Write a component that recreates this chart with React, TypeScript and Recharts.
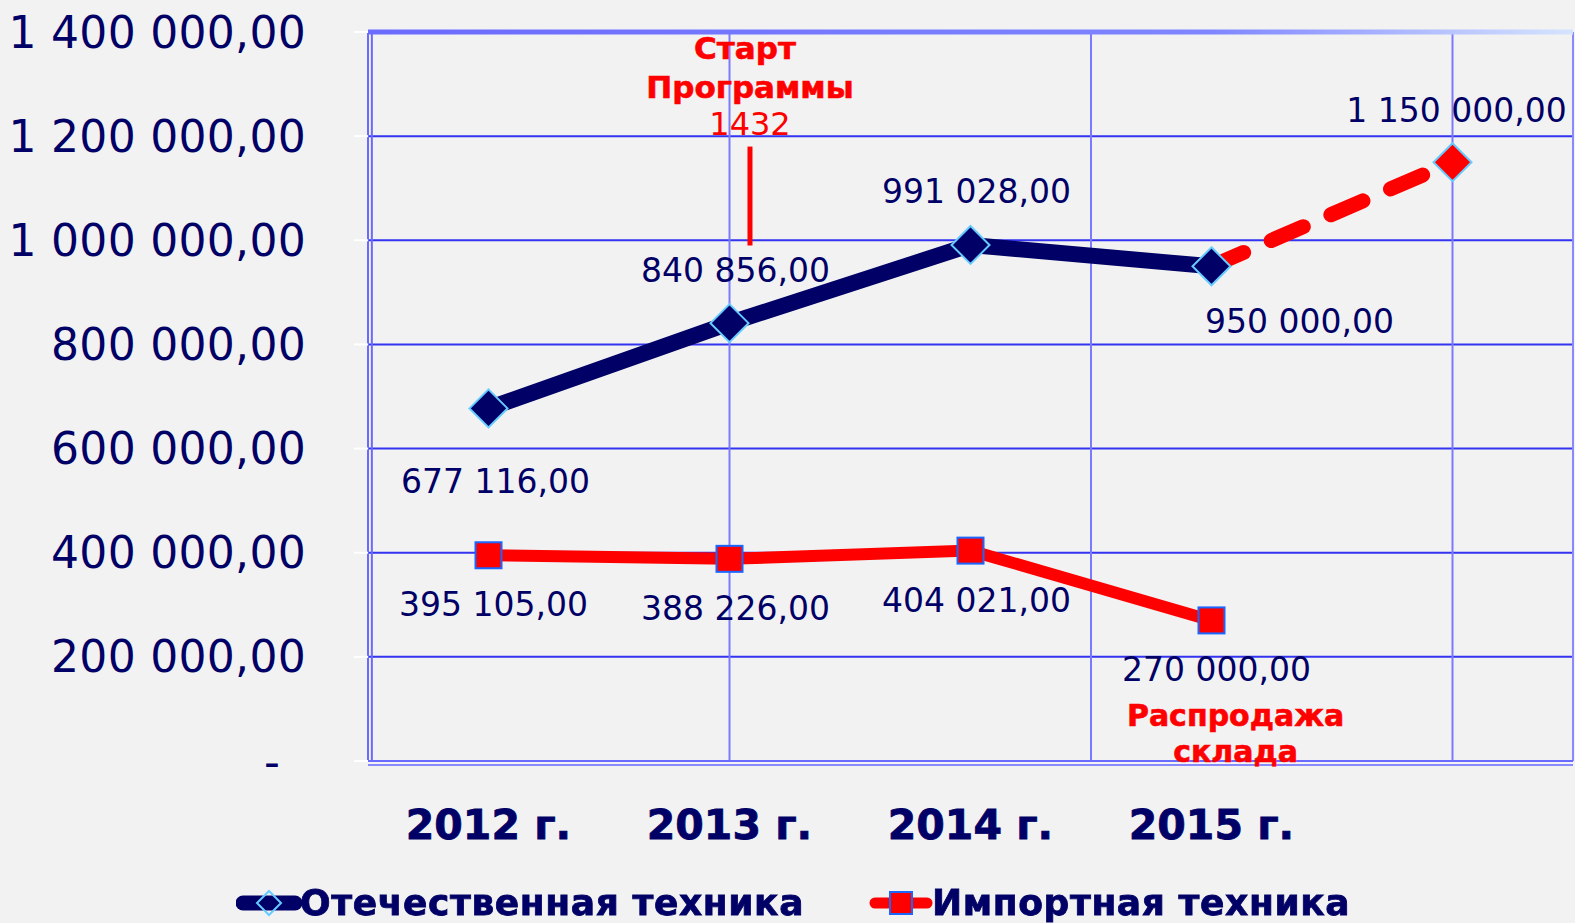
import {
  LineChart,
  Line,
  XAxis,
  YAxis,
  CartesianGrid,
  ReferenceLine,
  ReferenceDot,
} from 'recharts'

const years = ['2012 г.', '2013 г.', '2014 г.', '2015 г.', '']
const domestic = [677116, 840856, 991028, 950000, null]
const domesticForecast = [null, null, null, 950000, 1150000]
const imported = [395105, 388226, 404021, 270000, null]
const yTicks = [0, 200000, 400000, 600000, 800000, 1000000, 1200000, 1400000]
const seriesNames = ['Отечественная техника', 'Импортная техника']
const startNote = ['Старт', 'Программы', '1432']
const saleNote = ['Распродажа', 'склада']
const startNoteAt = { x: 1.085, from: 990000, to: 1180000 }
const saleNoteAt = { x: 3.1, y: 88000 }
const gridX = [1, 2.5, 4]

const NAVY = '#000066'
const RED = '#ff0000'
const BG = '#f2f2f2'
const LABEL_FONT = '"DejaVu Sans", Verdana, sans-serif'

const data = years.map((year, i) => ({
  x: i,
  year,
  domestic: domestic[i],
  forecast: domesticForecast[i],
  imported: imported[i],
}))

function formatValue(v: number): string {
  const s = Math.round(v).toString().replace(/\B(?=(\d{3})+(?!\d))/g, ' ')
  return `${s},00`
}

// label placement relative to each point (dx, dy)
const domesticShift = [[7, 73], [6, -53], [6, -53], [88, 55]]
const importedShift = [[5, 49], [6, 50], [6, 50], [5, 49]]
const forecastShift = [[0, 0], [0, 0], [0, 0], [0, 0], [4, -52]]

function makeLabel(shift: number[][], skip: number[] = []) {
  return (props: any) => {
    const { x, y, value, index } = props
    if (value == null || x == null || y == null || skip.includes(index)) return null
    const [dx, dy] = shift[index] ?? [0, 0]
    return (
      <text
        x={x + dx}
        y={y + dy}
        textAnchor="middle"
        dominantBaseline="central"
        fontFamily={LABEL_FONT}
        fontSize={33}
        fill={NAVY}
      >
        {formatValue(value)}
      </text>
    )
  }
}

function Diamond(props: any) {
  const { cx, cy, fill } = props
  if (cx == null || cy == null || props.value == null) return null
  const r = 19
  return (
    <path
      d={`M${cx},${cy - r} L${cx + r},${cy} L${cx},${cy + r} L${cx - r},${cy} Z`}
      fill={fill}
      stroke="#66ccff"
      strokeWidth={2}
    />
  )
}

function Square(props: any) {
  const { cx, cy } = props
  if (cx == null || cy == null || props.value == null) return null
  const h = 13
  return (
    <rect x={cx - h} y={cy - h} width={h * 2} height={h * 2} fill={RED} stroke="#1a66ff" strokeWidth={2} />
  )
}

function YTick(props: any) {
  const { x, y, payload } = props
  const v = payload.value as number
  return (
    <text
      x={v === 0 ? x - 82 : x - 48}
      y={y}
      textAnchor={v === 0 ? 'middle' : 'end'}
      dominantBaseline="central"
      fontFamily={LABEL_FONT}
      fontSize={44}
      letterSpacing={0.3}
      fill={NAVY}
    >
      {v === 0 ? '-' : formatValue(v)}
    </text>
  )
}

function XTick(props: any) {
  const { x, y, payload } = props
  return (
    <text
      x={x}
      y={y + 64}
      textAnchor="middle"
      dominantBaseline="central"
      fontFamily={LABEL_FONT}
      fontWeight="bold"
      fontSize={41}
      fill={NAVY}
      stroke={NAVY}
      strokeWidth={0.8}
    >
      {years[payload.value] ?? ''}
    </text>
  )
}

function StartNoteLabel(props: any) {
  const { viewBox } = props
  const x = viewBox.x
  const top = viewBox.y
  return (
    <g fontFamily={LABEL_FONT} fill={RED} textAnchor="middle">
      <text x={x - 5} y={top - 99} dominantBaseline="central" fontWeight="bold" fontSize={31} stroke={RED} strokeWidth={0.6}>
        {startNote[0]}
      </text>
      <text x={x} y={top - 60} dominantBaseline="central" fontWeight="bold" fontSize={31} stroke={RED} strokeWidth={0.6}>
        {startNote[1]}
      </text>
      <text x={x} y={top - 23} dominantBaseline="central" fontSize={32}>
        {startNote[2]}
      </text>
    </g>
  )
}

function SaleNoteLabel(props: any) {
  const { viewBox } = props
  const x = viewBox.x + (viewBox.width ?? 0) / 2
  const y = viewBox.y + (viewBox.height ?? 0) / 2
  return (
    <g fontFamily={LABEL_FONT} fill={RED} stroke={RED} strokeWidth={0.6} textAnchor="middle" fontWeight="bold" fontSize={30}>
      <text x={x} y={y} dominantBaseline="central">
        {saleNote[0]}
      </text>
      <text x={x} y={y + 36} dominantBaseline="central">
        {saleNote[1]}
      </text>
    </g>
  )
}

function LegendRow() {
  return (
    <div
      style={{
        position: 'absolute',
        left: 0,
        top: 882,
        width: 1575,
        height: 42,
        fontFamily: LABEL_FONT,
        fontWeight: 'bold',
        fontSize: 36,
        letterSpacing: 0.6,
        color: NAVY,
        WebkitTextStroke: `0.8px ${NAVY}`,
      }}
    >
      <div style={{ position: 'absolute', left: 236, top: 0, display: 'flex', alignItems: 'center', height: 42 }}>
        <svg width={66} height={42}>
          <line x1={7} y1={21} x2={59} y2={21} stroke={NAVY} strokeWidth={15} strokeLinecap="round" />
          <path d="M33,9 L45,21 L33,33 L21,21 Z" fill="none" stroke="#66ccff" strokeWidth={2} />
        </svg>
        <span style={{ marginLeft: -2, lineHeight: '42px' }}>{seriesNames[0]}</span>
      </div>
      <div style={{ position: 'absolute', left: 868, top: 0, display: 'flex', alignItems: 'center', height: 42 }}>
        <svg width={66} height={42}>
          <line x1={7} y1={21} x2={59} y2={21} stroke={RED} strokeWidth={11} strokeLinecap="round" />
          <rect x={22} y={10} width={22} height={22} fill={RED} stroke="#1a66ff" strokeWidth={2} />
        </svg>
        <span style={{ marginLeft: -2, lineHeight: '42px' }}>{seriesNames[1]}</span>
      </div>
    </div>
  )
}

export default function App() {
  return (
    <div style={{ position: 'fixed', left: 0, top: 0, width: 1575, height: 923, background: BG }}>
      <LineChart
        width={1575}
        height={923}
        data={data}
        margin={{ top: 32, right: 2, bottom: 102, left: 0 }}
      >
        <defs>
          <linearGradient id="topEdge" x1={368} y1={0} x2={1573} y2={0} gradientUnits="userSpaceOnUse">
            <stop offset="0%" stopColor="#6b6bff" />
            <stop offset="70%" stopColor="#7f86ff" />
            <stop offset="100%" stopColor="#d6e4ff" />
          </linearGradient>
        </defs>
        <CartesianGrid vertical={false} stroke="#3333f0" strokeWidth={2} />
        {gridX.map((gx) => (
          <ReferenceLine key={gx} x={gx} stroke="#7a7aff" strokeWidth={2} />
        ))}
        <ReferenceLine x={-0.5} stroke="#6a6aff" strokeWidth={2} ifOverflow="visible" />
        <ReferenceLine x={-0.484} stroke="#6a6aff" strokeWidth={2} ifOverflow="visible" />
        <ReferenceLine x={4.5} stroke="#8a8aff" strokeWidth={2} ifOverflow="visible" />
        <ReferenceLine y={0} stroke="#6a6aff" strokeWidth={2} ifOverflow="visible" />
        <ReferenceLine y={-7700} stroke="#8a8aff" strokeWidth={2} ifOverflow="visible" />
        <ReferenceLine y={1400000} stroke="url(#topEdge)" strokeWidth={5} ifOverflow="visible" />
        <XAxis
          dataKey="x"
          type="number"
          domain={[-0.5, 4.5]}
          ticks={[0, 1, 2, 3]}
          tick={<XTick />}
          tickLine={false}
          axisLine={false}
          tickSize={0}
          tickMargin={0}
          height={60}
          interval={0}
        />
        <YAxis
          width={368}
          domain={[0, 1400000]}
          ticks={yTicks}
          tick={<YTick />}
          tickLine={{ stroke: '#ffffff', strokeWidth: 2 }}
          tickSize={14}
          tickMargin={0}
          axisLine={false}
          interval={0}
        />
        <ReferenceLine
          segment={[
            { x: startNoteAt.x, y: startNoteAt.to },
            { x: startNoteAt.x, y: startNoteAt.from },
          ]}
          stroke={RED}
          strokeWidth={5}
          label={<StartNoteLabel />}
        />
        <ReferenceDot
          x={saleNoteAt.x}
          y={saleNoteAt.y}
          r={0}
          fill="none"
          stroke="none"
          label={<SaleNoteLabel />}
        />
        <Line
          dataKey="imported"
          name={seriesNames[1]}
          stroke={RED}
          strokeWidth={12}
          dot={<Square />}
          activeDot={false}
          label={makeLabel(importedShift)}
          isAnimationActive={false}
        />
        <Line
          dataKey="forecast"
          stroke={RED}
          strokeWidth={15}
          strokeDasharray="35 30"
          strokeLinecap="round"
          dot={(p: any) => (p.index === 4 ? <Diamond key={p.index} {...p} fill={RED} /> : <g key={p.index} />)}
          activeDot={false}
          label={makeLabel(forecastShift, [3])}
          legendType="none"
          isAnimationActive={false}
        />
        <Line
          dataKey="domestic"
          name={seriesNames[0]}
          stroke={NAVY}
          strokeWidth={16}
          dot={<Diamond fill={NAVY} />}
          activeDot={false}
          label={makeLabel(domesticShift)}
          isAnimationActive={false}
        />
      </LineChart>
      <LegendRow />
    </div>
  )
}
